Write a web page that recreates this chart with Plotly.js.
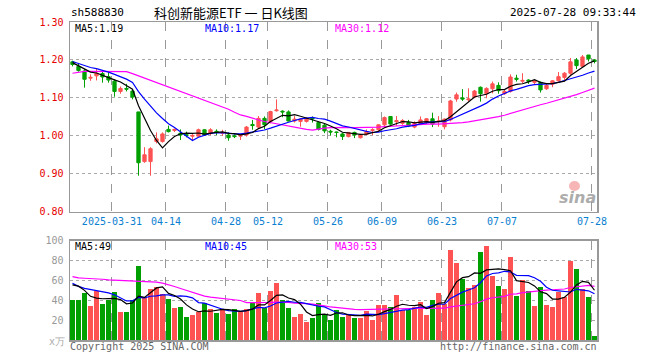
<!DOCTYPE html>
<html>
<head>
<meta charset="utf-8">
<script src="https://cdn.plot.ly/plotly-3.0.1.min.js"></script>
<style>html,body{margin:0;padding:0;background:#fff;}#chart{width:660px;height:360px;}</style>
</head>
<body>
<div id="chart"></div>
<script>
// ---------- data ----------
const dates = [
 '2025-03-20','2025-03-21','2025-03-24','2025-03-25','2025-03-26','2025-03-27','2025-03-28','2025-03-31',
 '2025-04-01','2025-04-02','2025-04-03','2025-04-07','2025-04-08','2025-04-09','2025-04-10','2025-04-11',
 '2025-04-14','2025-04-15','2025-04-16','2025-04-17','2025-04-18','2025-04-21','2025-04-22','2025-04-23',
 '2025-04-24','2025-04-25','2025-04-28','2025-04-29','2025-04-30','2025-05-06','2025-05-07','2025-05-08',
 '2025-05-09','2025-05-12','2025-05-13','2025-05-14','2025-05-15','2025-05-16','2025-05-19','2025-05-20',
 '2025-05-21','2025-05-22','2025-05-23','2025-05-26','2025-05-27','2025-05-28','2025-05-29','2025-05-30',
 '2025-06-03','2025-06-04','2025-06-05','2025-06-06','2025-06-09','2025-06-10','2025-06-11','2025-06-12',
 '2025-06-13','2025-06-16','2025-06-17','2025-06-18','2025-06-19','2025-06-20','2025-06-23','2025-06-24',
 '2025-06-25','2025-06-26','2025-06-27','2025-06-30','2025-07-01','2025-07-02','2025-07-03','2025-07-04',
 '2025-07-07','2025-07-08','2025-07-09','2025-07-10','2025-07-11','2025-07-14','2025-07-15','2025-07-16',
 '2025-07-17','2025-07-18','2025-07-21','2025-07-22','2025-07-23','2025-07-24','2025-07-25','2025-07-28'
];
const open = [
 1.195,1.183,1.171,1.152,1.158,1.164,1.156,1.144,1.117,1.125,1.118,1.063,0.932,0.932,0.985,0.985,
 1.017,1.014,1.007,1.003,0.999,0.999,1.016,1.007,1.012,1.007,1.002,1.000,0.999,1.002,1.030,1.023,
 1.046,1.038,1.066,1.065,1.063,1.039,1.038,1.038,1.047,1.035,1.028,1.012,1.010,1.005,0.998,1.009,
 0.995,1.004,1.014,1.016,1.029,1.051,1.037,1.033,1.035,1.023,1.031,1.035,1.045,1.037,1.024,1.042,
 1.097,1.100,1.095,1.102,1.128,1.111,1.124,1.133,1.111,1.117,1.152,1.144,1.147,1.141,1.141,1.124,
 1.136,1.145,1.154,1.165,1.200,1.183,1.213,1.200
];
const high = [
 1.198,1.190,1.176,1.162,1.176,1.169,1.169,1.149,1.130,1.137,1.123,1.063,0.970,0.970,1.009,1.009,
 1.027,1.019,1.017,1.011,1.005,1.019,1.017,1.020,1.017,1.016,1.009,1.004,1.004,1.026,1.042,1.052,
 1.051,1.066,1.096,1.067,1.067,1.052,1.046,1.049,1.051,1.038,1.031,1.016,1.011,1.008,1.010,1.011,
 1.005,1.017,1.020,1.030,1.051,1.052,1.052,1.044,1.042,1.038,1.051,1.046,1.061,1.052,1.046,1.095,
 1.114,1.123,1.125,1.121,1.130,1.128,1.143,1.141,1.121,1.162,1.161,1.165,1.149,1.147,1.143,1.139,
 1.147,1.168,1.168,1.205,1.205,1.213,1.213,1.202
];
const low = [
 1.183,1.169,1.127,1.145,1.146,1.140,1.140,1.103,1.111,1.117,1.096,0.895,0.929,0.895,0.980,0.982,
 1.009,1.010,0.989,0.996,0.989,0.998,1.001,1.002,1.002,1.000,0.987,0.994,0.989,0.998,1.016,1.020,
 1.017,1.033,1.064,1.049,1.038,1.035,1.024,1.035,1.035,1.014,1.007,1.001,0.996,0.989,0.996,0.994,
 0.993,1.002,1.002,1.011,1.026,1.029,1.026,1.029,1.023,1.020,1.029,1.031,1.023,1.024,1.017,1.038,
 1.090,1.092,1.090,1.099,1.090,1.099,1.112,1.111,1.108,1.114,1.143,1.139,1.137,1.134,1.114,1.121,
 1.128,1.143,1.147,1.161,1.176,1.181,1.196,1.191
];
const close = [
 1.188,1.172,1.149,1.154,1.165,1.155,1.147,1.117,1.125,1.123,1.102,0.929,0.950,0.966,0.992,1.005,
 1.011,1.017,1.002,1.001,1.001,1.016,1.002,1.016,1.010,1.009,0.995,0.998,1.001,1.023,1.027,1.046,
 1.029,1.064,1.068,1.063,1.039,1.044,1.044,1.044,1.045,1.017,1.013,1.010,1.009,0.998,1.009,1.002,
 1.002,1.011,1.016,1.029,1.048,1.031,1.040,1.040,1.026,1.033,1.042,1.045,1.031,1.039,1.044,1.092,
 1.108,1.097,1.097,1.118,1.111,1.125,1.137,1.119,1.117,1.155,1.149,1.146,1.144,1.145,1.121,1.133,
 1.145,1.156,1.165,1.195,1.185,1.208,1.203,1.196
];
// volume, unit: 万
const volume = [
 39.8,39.8,47.5,34.4,49.5,36.4,40.5,48.5,28.4,28.4,
 40.5,74.6,42.8,51.2,53.2,46.1,41.5,32.4,33.4,23.4,
 25.4,27.7,36.8,31.4,27.4,30.8,26.4,31.4,27.7,31.4,
 38.5,47.5,31.8,49.5,57.5,40.5,32.4,23.4,26.4,18.4,
 22.4,37.4,25.4,20.4,30.4,23.4,26.4,22.4,22.4,29.4,
 20.4,35.4,35.4,33.4,45.4,30.4,30.4,33.4,38.4,25.4,
 40.5,47.5,36.4,90.7,77.6,61.6,52.5,55.5,88.7,94.7,
 64.6,54.5,51.5,83.6,44.5,60.6,49.5,34.4,53.5,35.4,
 33.4,48.8,43.8,79.6,71.6,51.5,43.5,4.3
];
// moving-average values at the start of the window (history before the window is not shown)
const ma5Head  = [1.193,1.185,1.175,1.168];
const ma10Head = [1.196,1.190,1.184,1.180,1.177,1.173,1.168,1.162,1.156];
const ma30Head = [1.165,1.168,1.170,1.170,1.170,1.170,1.170,1.170,1.170,1.169,1.164,1.158,1.153,1.148,1.142,
                  1.135,1.130,1.123,1.116,1.111,1.105,1.099,1.094,1.088,1.082,1.076,1.070,1.062,1.055];
const vma5Head  = [55.5,54.2,50.0,44.0];
const vma10Head = [57,54,52,51,50,49,47.5,45.5,42];
const vma30Head = [63.9,62.6,62.2,61.9,61.9,61.2,60.5,60.2,59.9,59.5,59.2,58.9,58.9,58.5,58.2,
                   57.2,55.9,53.9,51.9,49.9,47.5,45.5,44.2,43.2,42.5,41.5,40.8,40.5,39.8];

const tickDates = ['2025-03-31','2025-04-14','2025-04-28','2025-05-12','2025-05-26','2025-06-09','2025-06-23','2025-07-07','2025-07-28'];
const tickText  = ['2025-03-31','04-14','04-28','05-12','05-26','06-09','06-23','07-07','07-28'];
const priceTicks = [0.80,0.90,1.00,1.10,1.20,1.30];
const volTicks = [20,40,60,80,100];
const priceLegend = ['MA5:1.19','MA10:1.17','MA30:1.12'];
const volLegend = ['MA5:49','MA10:45','MA30:53'];

// ---------- helpers ----------
function movingAvg(arr, n, head){
  return arr.map((v,i)=>{
    if(i < n-1) return head[i];
    let s=0; for(let k=i-n+1;k<=i;k++) s+=arr[k];
    return s/n;
  });
}
const idx = dates.map((d,i)=>i);
const RED='#ff5252', GREEN='#00a000';
const MONO='DejaVu Sans Mono';

const L=70, R=597, T=22, B=340;
const px = x => (x-L)/(R-L);
const py = y => (B-y)/(B-T);

const ma5=movingAvg(close,5,ma5Head), ma10=movingAvg(close,10,ma10Head), ma30=movingAvg(close,30,ma30Head);
const vma5=movingAvg(volume,5,vma5Head), vma10=movingAvg(volume,10,vma10Head), vma30=movingAvg(volume,30,vma30Head);

const lineOff = -0.42; // day separator drawn at the left edge of the bar
const tickVals = tickDates.map(d=>dates.indexOf(d)+lineOff);

const traces = [
  {type:'candlestick', x:idx, open:open, high:high, low:low, close:close, xaxis:'x', yaxis:'y',
   increasing:{line:{color:RED,width:1}, fillcolor:RED},
   decreasing:{line:{color:GREEN,width:1}, fillcolor:GREEN},
   whiskerwidth:0, hoverinfo:'skip', showlegend:false},
  {type:'scatter', mode:'lines', x:idx, y:ma30, line:{color:'#ff00ff',width:1.2}, xaxis:'x', yaxis:'y', hoverinfo:'skip'},
  {type:'scatter', mode:'lines', x:idx, y:ma10, line:{color:'#0000ff',width:1.2}, xaxis:'x', yaxis:'y', hoverinfo:'skip'},
  {type:'scatter', mode:'lines', x:idx, y:ma5, line:{color:'#000000',width:1.2}, xaxis:'x', yaxis:'y', hoverinfo:'skip'},
  {type:'bar', x:idx, y:volume, width:0.82, marker:{color:volume.map((v,i)=>close[i]>=open[i]?RED:GREEN), line:{width:0}},
   xaxis:'x2', yaxis:'y2', hoverinfo:'skip'},
  {type:'scatter', mode:'lines', x:idx, y:vma30, line:{color:'#ff00ff',width:1.2}, xaxis:'x2', yaxis:'y2', hoverinfo:'skip'},
  {type:'scatter', mode:'lines', x:idx, y:vma10, line:{color:'#0000ff',width:1.2}, xaxis:'x2', yaxis:'y2', hoverinfo:'skip'},
  {type:'scatter', mode:'lines', x:idx, y:vma5, line:{color:'#000000',width:1.2}, xaxis:'x2', yaxis:'y2', hoverinfo:'skip'}
];

const xr = [-0.4167, dates.length-1+0.4167];
const frame = {showline:true, mirror:true, linecolor:'#999', linewidth:1.5};
function ann(text,x,y,anchor,color,size,family,extra){
  return Object.assign({text:text, xref:'paper', yref:'paper', x:px(x), y:py(y), xanchor:anchor, yanchor:'middle',
    showarrow:false, borderpad:0, font:{family:family||MONO, size:size||10, color:color||'#000'}}, extra||{});
}

const layout = {
  width:660, height:360, margin:{l:L, r:660-R, t:T, b:360-B, pad:0},
  paper_bgcolor:'#fff', plot_bgcolor:'#fff', showlegend:false, hovermode:false,
  boxgap:0.22, bargap:0, dragmode:false,
  xaxis: Object.assign({anchor:'y', range:xr, tickmode:'array', tickvals:tickVals, ticktext:tickText,
    tickfont:{family:MONO,size:10,color:'#0a80d0'}, ticks:'', showgrid:true, gridcolor:'#999', griddash:'dash', gridwidth:1,
    zeroline:false, rangeslider:{visible:false}, fixedrange:true}, frame),
  xaxis2: Object.assign({anchor:'y2', range:xr, matches:'x', tickmode:'array', tickvals:tickVals, showticklabels:false,
    ticks:'', showgrid:true, gridcolor:'#999', griddash:'dash', gridwidth:1, zeroline:false, fixedrange:true}, frame),
  yaxis: Object.assign({domain:[py(211.7),1], range:[0.80,1.30], tickmode:'array', tickvals:priceTicks,
    ticktext:priceTicks.map(v=>v.toFixed(2)), tickfont:{family:MONO,size:10,color:'#e60000'}, ticks:'',
    showgrid:true, gridcolor:'#aaa', griddash:'dot', gridwidth:1, zeroline:false, fixedrange:true, ticklabelstandoff:3}, frame),
  yaxis2: Object.assign({domain:[0,py(240.7)], range:[0,100], tickmode:'array', tickvals:volTicks,
    ticktext:volTicks.map(String), tickfont:{family:MONO,size:10,color:'#999'}, ticks:'',
    showgrid:true, gridcolor:'#aaa', griddash:'dot', gridwidth:1, zeroline:false, fixedrange:true, ticklabelstandoff:3}, frame),
  shapes:[
    {type:'circle', xref:'paper', yref:'paper', x0:px(569), x1:px(580), y0:py(191), y1:py(181),
     fillcolor:'rgba(240,120,120,0.55)', line:{width:0}}
  ],
  annotations:[
    ann('sh588830',70,13,'left','#000',11),
    ann('科创新能源ETF\u00a0一\u00a0日K线图',231,13,'center','#000',13,'Noto Sans CJK SC'),
    ann('2025-07-28 09:33:44',637,13,'right','#000',11),
    ann(priceLegend[0],74,28,'left','#000'),
    ann(priceLegend[1],204,28,'left','#0000ff'),
    ann(priceLegend[2],334,28,'left','#ff00ff'),
    ann(volLegend[0],74,246,'left','#000'),
    ann(volLegend[1],204,246,'left','#0000ff'),
    ann(volLegend[2],334,246,'left','#ff00ff'),
    ann('x万',66,341,'right','#aaa',10),
    ann('Copyright 2025 SINA.COM',69,346,'left','#666',10),
    ann('http://finance.sina.com.cn',598,346,'right','#666',10),
    ann('<i><b>sina</b></i>',577,197,'center','rgba(150,150,150,0.8)',16,'DejaVu Sans')
  ]
};

Plotly.newPlot('chart', traces, layout, {staticPlot:true, displayModeBar:false});
</script>
</body>
</html>
